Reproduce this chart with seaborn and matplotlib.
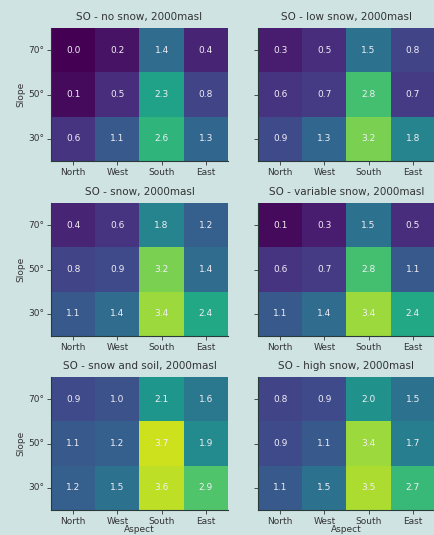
import numpy as np
import pandas as pd
import matplotlib
matplotlib.use("Agg")
import matplotlib.pyplot as plt
import seaborn as sns

aspects = ["North", "West", "South", "East"]
slopes = ["70°", "50°", "30°"]
titles = [
    "SO - no snow, 2000masl",
    "SO - low snow, 2000masl",
    "SO - snow, 2000masl",
    "SO - variable snow, 2000masl",
    "SO - snow and soil, 2000masl",
    "SO - high snow, 2000masl",
]
no_snow = [[0.0, 0.2, 1.4, 0.4], [0.1, 0.5, 2.3, 0.8], [0.6, 1.1, 2.6, 1.3]]
low_snow = [[0.3, 0.5, 1.5, 0.8], [0.6, 0.7, 2.8, 0.7], [0.9, 1.3, 3.2, 1.8]]
snow = [[0.4, 0.6, 1.8, 1.2], [0.8, 0.9, 3.2, 1.4], [1.1, 1.4, 3.4, 2.4]]
variable_snow = [[0.1, 0.3, 1.5, 0.5], [0.6, 0.7, 2.8, 1.1], [1.1, 1.4, 3.4, 2.4]]
snow_and_soil = [[0.9, 1.0, 2.1, 1.6], [1.1, 1.2, 3.7, 1.9], [1.2, 1.5, 3.6, 2.9]]
high_snow = [[0.8, 0.9, 2.0, 1.5], [0.9, 1.1, 3.4, 1.7], [1.1, 1.5, 3.5, 2.7]]
datasets = [no_snow, low_snow, snow, variable_snow, snow_and_soil, high_snow]

bg = "#cfe3e3"
txt = "#333333"
fig = plt.figure(figsize=(4.35, 5.35), dpi=100, facecolor=bg)

W, H = 435, 535
cols_px = [51, 258]
rows_px = [(28, 161), (203, 336), (377, 510)]
aw = 177

for i, (data, title) in enumerate(zip(datasets, titles)):
    r, c = divmod(i, 2)
    top, bot = rows_px[r]
    ax = fig.add_axes([cols_px[c] / W, 1 - bot / H, aw / W, (bot - top) / H])
    df = pd.DataFrame(data, index=slopes, columns=aspects)
    sns.heatmap(df, ax=ax, cmap="viridis", vmin=0, vmax=4, cbar=False,
                annot=True, fmt=".1f",
                annot_kws={"fontsize": 6.5, "color": "#f2eef6"})
    for s in ["left", "bottom"]:
        ax.spines[s].set_visible(True)
        ax.spines[s].set_color("#2a3a3a")
        ax.spines[s].set_linewidth(0.8)
    ax.set_title(title, fontsize=7.5, color=txt, pad=6)
    ax.tick_params(axis="both", labelsize=6.5, colors=txt, length=3, width=0.6, pad=2)
    ax.tick_params(axis="y", rotation=0)
    if c == 0:
        ax.set_ylabel("Slope", fontsize=6.5, color=txt, labelpad=2)
    else:
        ax.set_ylabel("")
        ax.set_yticklabels([])
    if r == 2:
        ax.set_xlabel("Aspect", fontsize=6.5, color=txt, labelpad=-1)
    else:
        ax.set_xlabel("")

fig.savefig("out.png", dpi=100, facecolor=bg)
